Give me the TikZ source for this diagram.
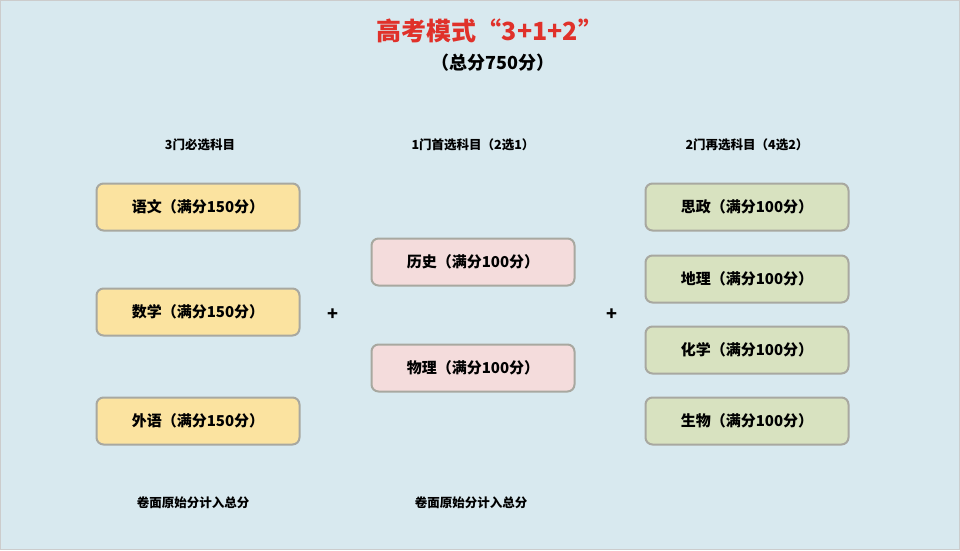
\documentclass[tikz,border=0pt]{standalone}
\usepackage{fontspec}
\setmainfont{Noto Sans CJK SC}
\definecolor{bg}{HTML}{D8E9EF}
\definecolor{yel}{HTML}{FBE3A0}
\definecolor{pnk}{HTML}{F4DCDC}
\definecolor{grn}{HTML}{D8E2C0}
\definecolor{bd}{HTML}{A8A8A0}
\definecolor{ttl}{HTML}{E0312A}
\begin{document}
\begin{tikzpicture}[x=1pt,y=-1pt,
 subj/.style={draw=bd,line width=2pt,rounded corners=7pt,minimum width=203pt,minimum height=47pt,font=\fontsize{15}{17}\selectfont\bfseries},
 hdr/.style={font=\fontsize{12.5}{15}\selectfont\bfseries}]
\useasboundingbox (0,0) rectangle (960,550);
\fill[bg] (0,0) rectangle (960,550);
\draw[gray!40] (0.5,0.5) rectangle (959.5,549.5);
\node[text=ttl,font=\fontsize{25}{29}\selectfont\bfseries] (t) at (490,31) {高考模式“3+1+2”};
\node[font=\fontsize{18}{21}\selectfont\bfseries] (st) at (493,63) {（总分750分）};
\node[hdr] (h1) at (200,145) {3门必选科目};
\node[hdr] (h2) at (473,145) {1门首选科目（2选1）};
\node[hdr] (h3) at (747,145) {2门再选科目（4选2）};
\node[subj,fill=yel] (a1) at (198,207) {语文（满分150分）};
\node[subj,fill=yel] (a2) at (198,312) {数学（满分150分）};
\node[subj,fill=yel] (a3) at (198,421) {外语（满分150分）};
\node[subj,fill=pnk] (b1) at (473,262) {历史（满分100分）};
\node[subj,fill=pnk] (b2) at (473,368) {物理（满分100分）};
\node[subj,fill=grn] (c1) at (747,207) {思政（满分100分）};
\node[subj,fill=grn] (c2) at (747,279) {地理（满分100分）};
\node[subj,fill=grn] (c3) at (747,350) {化学（满分100分）};
\node[subj,fill=grn] (c4) at (747,421) {生物（满分100分）};
\node[font=\fontsize{18}{20}\selectfont\bfseries] (p1) at (333,315) {+};
\node[font=\fontsize{18}{20}\selectfont\bfseries] (p2) at (612,315) {+};
\node[hdr] (f1) at (193,503) {卷面原始分计入总分};
\node[hdr] (f2) at (471,503) {卷面原始分计入总分};
\end{tikzpicture}
\end{document}
